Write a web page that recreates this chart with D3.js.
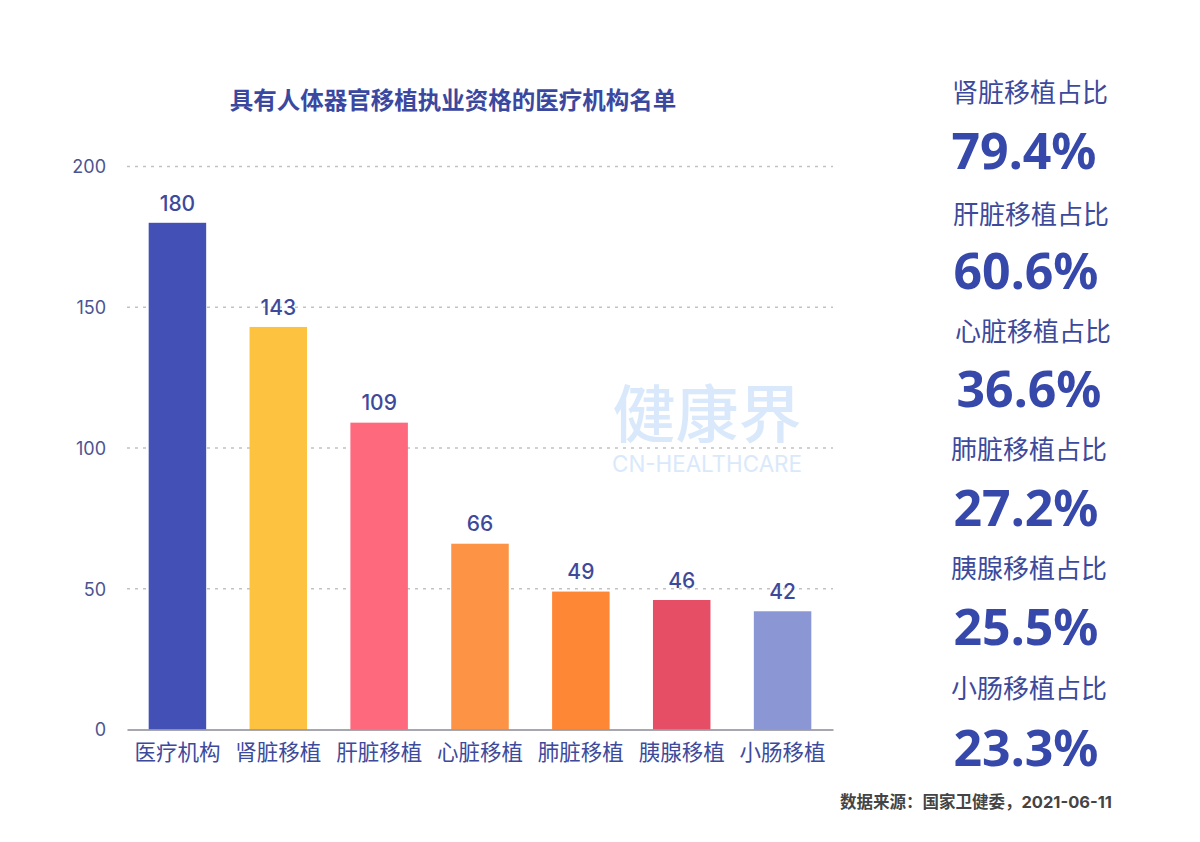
<!DOCTYPE html>
<html lang="zh">
<head>
<meta charset="utf-8">
<script src="https://cdn.jsdelivr.net/npm/d3@7"></script>
<style>
  html, body { margin: 0; background: #fff; }
  text { font-family: Inter, "Noto Sans CJK SC", sans-serif; }
</style>
</head>
<body>
<svg id="chart" width="1200" height="842"></svg>
<script>
// Data
const categories = ["医疗机构", "肾脏移植", "肝脏移植", "心脏移植", "肺脏移植", "胰腺移植", "小肠移植"];
const counts = [180, 143, 109, 66, 49, 46, 42];
const barColors = ["#4351b6", "#fdc23f", "#fe697e", "#fd9445", "#fd8734", "#e54e64", "#8b97d4"];
const yTicks = [0, 50, 100, 150, 200];
const shareLabels = ["肾脏移植占比", "肝脏移植占比", "心脏移植占比", "肺脏移植占比", "胰腺移植占比", "小肠移植占比"];
const shareValues = ["79.4%", "60.6%", "36.6%", "27.2%", "25.5%", "23.3%"];
const shareLabelX = [1030, 1031, 1033, 1029, 1029, 1029];
const shareLabelY = [95, 217, 334, 452, 571, 691];
const shareValueX = [1024, 1026, 1029, 1026, 1026, 1026];
const shareValueY = [155, 275, 393, 512, 631, 752];

const svg = d3.select("#chart");
const navy = "#3d4a9c";

const x = d3.scaleBand().domain(categories).range([127, 833]).paddingInner(0.43).paddingOuter(0.215);
const y = d3.scaleLinear().domain([0, 200]).range([729.5, 166.5]);

// Title
svg.append("text")
    .attr("x", 453).attr("y", 103)
    .attr("text-anchor", "middle").attr("dominant-baseline", "middle")
    .attr("font-size", 23.5).attr("font-weight", 700).attr("fill", "#3b489f")
    .text("具有人体器官移植执业资格的医疗机构名单");

// Grid lines
svg.append("g")
    .selectAll("line")
    .data(yTicks.filter(d => d > 0))
    .join("line")
    .attr("x1", 127).attr("x2", 833)
    .attr("y1", d => y(d)).attr("y2", d => y(d))
    .attr("stroke", "#c2c2c2").attr("stroke-width", 1.3)
    .attr("stroke-dasharray", "3 5");

// Watermark
svg.append("text")
    .attr("x", 707).attr("y", 420)
    .attr("text-anchor", "middle").attr("dominant-baseline", "middle")
    .attr("font-size", 63).attr("font-weight", 500).attr("fill", "#d9e9fb")
    .text("健康界");
svg.append("text")
    .attr("x", 707).attr("y", 466)
    .attr("text-anchor", "middle").attr("dominant-baseline", "middle")
    .attr("font-size", 22.4).attr("fill", "#d9e9fb")
    .text("CN-HEALTHCARE");

// Bars
svg.append("g")
    .selectAll("rect")
    .data(counts)
    .join("rect")
    .attr("x", (d, i) => x(categories[i]))
    .attr("y", d => y(d))
    .attr("width", x.bandwidth())
    .attr("height", d => y(0) - y(d))
    .attr("fill", (d, i) => barColors[i]);

// Bar value labels
svg.append("g")
    .selectAll("text")
    .data(counts)
    .join("text")
    .attr("x", (d, i) => x(categories[i]) + x.bandwidth() / 2)
    .attr("y", d => y(d) - 18)
    .attr("text-anchor", "middle").attr("dominant-baseline", "middle")
    .attr("font-size", 21).attr("font-weight", 500).attr("fill", navy)
    .text(d => d);

// Y axis labels
svg.append("g")
    .selectAll("text")
    .data(yTicks)
    .join("text")
    .attr("x", 106).attr("y", d => y(d) + 2)
    .attr("text-anchor", "end").attr("dominant-baseline", "middle")
    .attr("font-size", 18).attr("fill", "#4b5491")
    .text(d => d);

// X axis
const xAxis = svg.append("g")
    .attr("transform", `translate(0,${y(0)})`)
    .call(d3.axisBottom(x).tickSize(0).tickPadding(15));
xAxis.select(".domain").attr("stroke", "#8a8a94").attr("stroke-width", 1.5);
xAxis.selectAll("text")
    .attr("font-size", 21.5).attr("fill", navy);

// Side panel
svg.append("g")
    .selectAll("text")
    .data(shareLabels)
    .join("text")
    .attr("x", (d, i) => shareLabelX[i]).attr("y", (d, i) => shareLabelY[i])
    .attr("text-anchor", "middle").attr("dominant-baseline", "middle")
    .attr("font-size", 26).attr("fill", navy)
    .text(d => d);
svg.append("g")
    .selectAll("text")
    .data(shareValues)
    .join("text")
    .attr("x", (d, i) => shareValueX[i]).attr("y", (d, i) => shareValueY[i])
    .attr("text-anchor", "middle").attr("dominant-baseline", "middle")
    .style("font-family", "'Noto Sans', sans-serif")
    .attr("font-size", 50).attr("font-weight", 700).attr("fill", "#3748ab")
    .text(d => d);

// Source
svg.append("text")
    .attr("x", 1112).attr("y", 803)
    .attr("text-anchor", "end").attr("dominant-baseline", "middle")
    .attr("font-size", 16.5).attr("font-weight", 700).attr("fill", "#444")
    .text("数据来源：国家卫健委，2021-06-11");
</script>
</body>
</html>
